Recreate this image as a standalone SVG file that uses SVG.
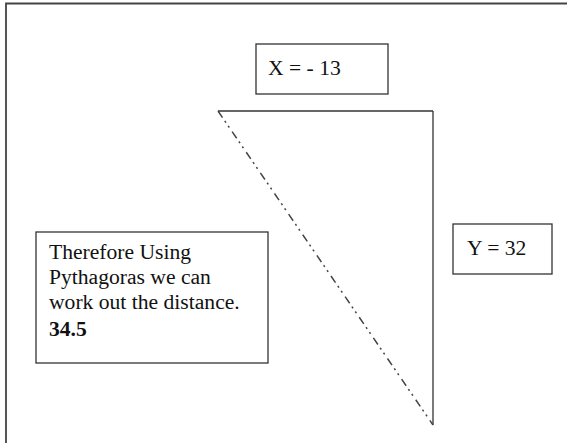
<svg xmlns="http://www.w3.org/2000/svg" width="567" height="443" viewBox="0 0 567 443">
<style>
.box{fill:#fff;stroke:#333;stroke-width:1.3}
.t{font-family:"Liberation Serif","Times New Roman",serif;font-size:21.6px;fill:#111}
.b{font-weight:bold}
.ln{stroke:#333;stroke-width:1.3;fill:none}
</style>
<rect width="567" height="443" fill="#fff"/>
<path d="M6 443 V3.5 H567" fill="none" stroke="#444" stroke-width="1.8"/>
<g id="connectors">
<line class="ln" x1="218" y1="111" x2="433" y2="111"/>
<line class="ln" x1="433" y1="111" x2="433" y2="425"/>
<line x1="218" y1="111" x2="433" y2="425" stroke="#444" stroke-width="1.5" stroke-dasharray="8 4 2 4 2 5"/>
</g>
<g id="xlabel">
<rect class="box" x="256" y="44" width="132" height="50"/>
<text class="t" x="268" y="75">X = - 13</text>
</g>
<g id="ylabel">
<rect class="box" x="453" y="224" width="99" height="50"/>
<text class="t" x="467" y="255">Y = 32</text>
</g>
<g id="note">
<rect class="box" x="36" y="232" width="232" height="131"/>
<text class="t" x="49" y="259">Therefore Using</text>
<text class="t" x="49" y="284">Pythagoras we can</text>
<text class="t" x="49" y="309">work out the distance.</text>
<text class="t b" x="49" y="336">34.5</text>
</g>
</svg>
